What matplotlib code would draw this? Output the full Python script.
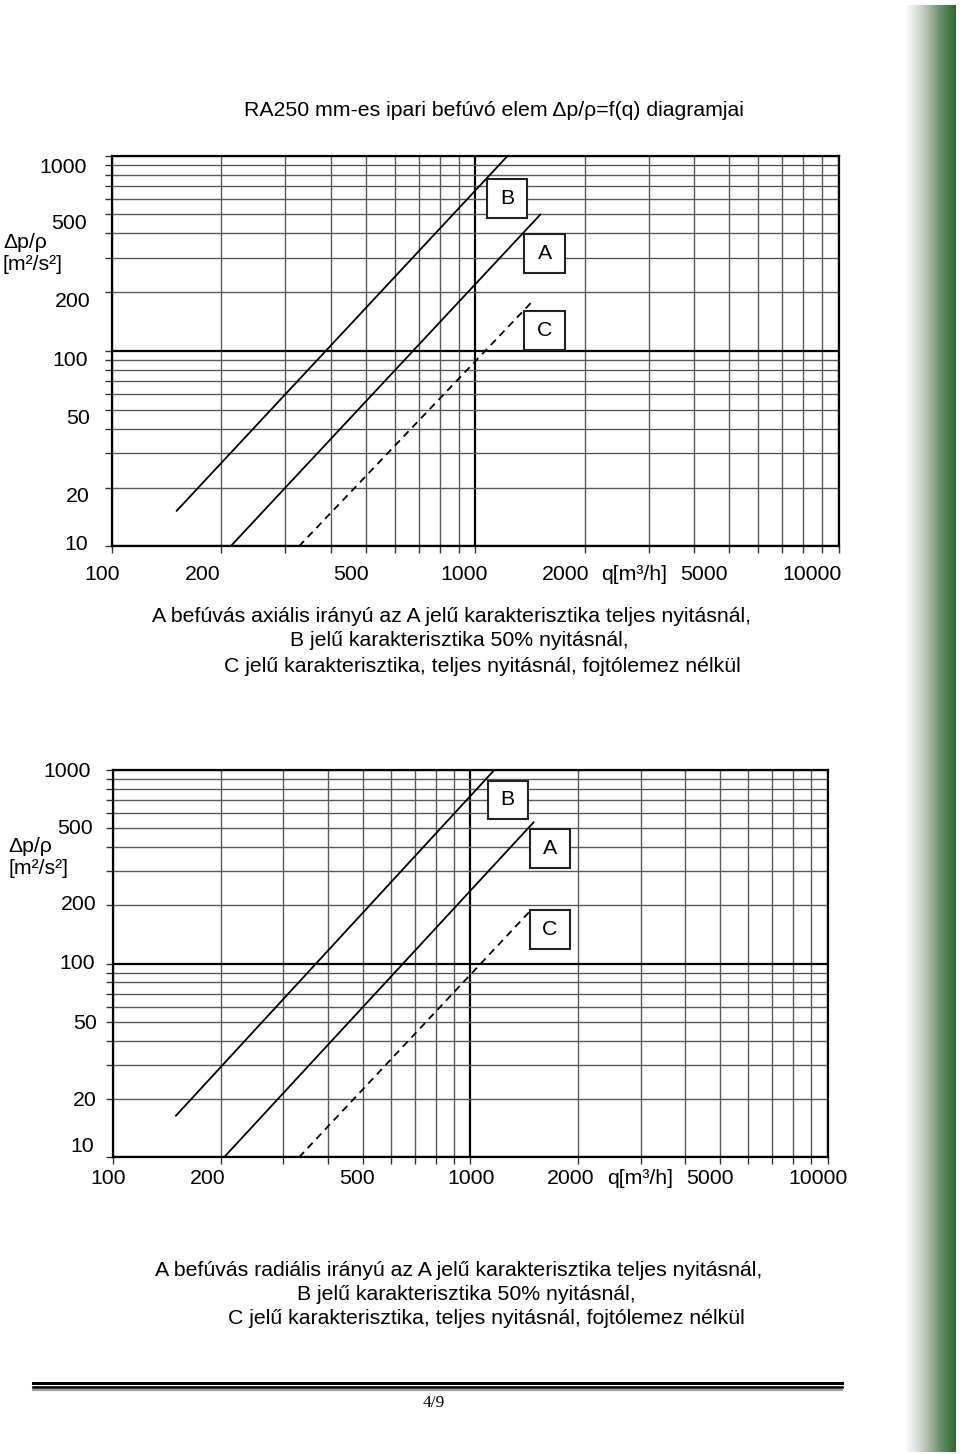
import numpy as np
import matplotlib.pyplot as plt
from matplotlib.patches import Rectangle
from matplotlib.lines import Line2D
from matplotlib.colors import LinearSegmentedColormap
from matplotlib.ticker import LogLocator, NullFormatter
from matplotlib.transforms import ScaledTranslation

plt.rcParams['font.family'] = ['Liberation Sans', 'DejaVu Sans']

# ---- data (q in m3/h, dp/rho in m2/s2) ----
q_ticks = [100, 200, 500, 1000, 2000, 5000, 10000]
p_ticks = [10, 20, 50, 100, 200, 500, 1000]

# axial blow-out (upper diagram): straight lines on log-log paper
axial_A_q = [212, 1510]
axial_A_p = [10, 500]
axial_B_q = [150.7, 1228]
axial_B_p = [15.2, 1000]
axial_C_q = [327, 1421]
axial_C_p = [10, 176]

# radial blow-out (lower diagram)
radial_A_q = [204.5, 1503]
radial_A_p = [10, 537]
radial_B_q = [150, 1167]
radial_B_p = [16.4, 1000]
radial_C_q = [331.6, 1462]
radial_C_p = [10, 185]

title = 'RA250 mm-es ipari befúvó elem \u0394p/\u03c1=f(q) diagramjai'
caption_axial = ['A befúvás axiális irányú az A jelű karakterisztika teljes nyitásnál,',
                 'B jelű karakterisztika 50% nyitásnál,',
                 'C jelű karakterisztika, teljes nyitásnál, fojtólemez nélkül']
caption_radial = ['A befúvás radiális irányú az A jelű karakterisztika teljes nyitásnál,',
                  'B jelű karakterisztika 50% nyitásnál,',
                  'C jelű karakterisztika, teljes nyitásnál, fojtólemez nélkül']

# ---- page layout (pixels) ----
W, H = 960, 1454
FS = 15.3
fig = plt.figure(figsize=(W / 100, H / 100), dpi=100)


def px_axes(left, top, right, bottom):
    return fig.add_axes([left / W, 1 - bottom / H, (right - left) / W, (bottom - top) / H])


def ftext(x, y, s, **kw):
    fig.text(x / W, 1 - y / H, s, **kw)


def nudge(dx, dy):
    # pixel offset, dy positive = downwards
    return ScaledTranslation(dx / 100, -dy / 100, fig.dpi_scale_trans)


def draw_chart(ax, curves, boxes, ylab_nudge, xlab_nudge):
    ax.set_xscale('log')
    ax.set_yscale('log')
    ax.set_xlim(100, 10000)
    ax.set_ylim(10, 1000)
    for axis in (ax.xaxis, ax.yaxis):
        axis.set_major_locator(LogLocator(base=10))
        axis.set_minor_locator(LogLocator(base=10, subs=np.arange(2, 10)))
        axis.set_major_formatter(NullFormatter())
        axis.set_minor_formatter(NullFormatter())
    ax.grid(which='minor', color='#5a5a5a', lw=1.0)
    ax.grid(which='major', color='black', lw=1.6)
    ax.tick_params(which='both', direction='out', length=5, width=1.0, color='#333333')
    for sp in ax.spines.values():
        sp.set_linewidth(1.6)
        sp.set_color('black')

    for (q, p, ls) in curves:
        ax.plot(q, p, color='black', lw=1.3, ls=ls, dashes=(4, 3) if ls == '--' else (None, None),
                zorder=3)

    for (x0, y0, w, h, s) in boxes:
        ax.add_patch(Rectangle((x0, y0), w, h, transform=ax.transAxes, facecolor='white',
                               edgecolor='#222222', lw=1.5, zorder=5))
        ax.text(x0 + w / 2, y0 + h / 2, s, transform=ax.transAxes, ha='center', va='center',
                fontsize=FS, zorder=6)

    for v, (dx, dy) in zip(p_ticks, ylab_nudge):
        ax.text(0, v, str(v), transform=ax.get_yaxis_transform() + nudge(dx, dy),
                ha='right', va='center', fontsize=FS)
    for v, (dx, dy) in zip(q_ticks, xlab_nudge):
        ax.text(v, 0, str(v), transform=ax.get_xaxis_transform() + nudge(dx, dy),
                ha='center', va='center', fontsize=FS)


# upper diagram
ax1 = px_axes(112, 155.7, 838.7, 546.3)
draw_chart(ax1,
           [(axial_B_q, axial_B_p, '-'), (axial_A_q, axial_A_p, '-'), (axial_C_q, axial_C_p, '--')],
           [(0.516, 0.8405, 0.055, 0.0998, 'B'),
            (0.567, 0.6997, 0.0564, 0.0998, 'A'),
            (0.567, 0.5026, 0.0564, 0.0998, 'C')],
           [(-24, -2.3), (-22, 9.2), (-22, 9.2), (-24, 9), (-22, 8.8), (-25, 9.5), (-25, 12)],
           [(-10.3, 28.7), (-18.9, 28.7), (-15, 28.7), (-11.3, 28.7), (-19.2, 28.7),
            (-25.4, 28.7), (-26.7, 28.7)])

# lower diagram
ax2 = px_axes(113, 770, 827.7, 1157.3)
draw_chart(ax2,
           [(radial_B_q, radial_B_p, '-'), (radial_A_q, radial_A_p, '-'), (radial_C_q, radial_C_p, '--')],
           [(0.5243, 0.8727, 0.0559, 0.0997, 'B'),
            (0.583, 0.747, 0.056, 0.0998, 'A'),
            (0.583, 0.538, 0.056, 0.0998, 'C')],
           [(-19, -10.6), (-16.3, 1), (-16.3, 1.7), (-18, -0.4), (-16.3, -0.4), (-20, 0.7), (-22, 1.7)],
           [(-5.2, 20.7), (-13.1, 20.7), (-6.1, 20.7), (0.5, 20.7), (-6.8, 20.7),
            (-10.1, 20.7), (-9.7, 20.7)])

# texts on the page
ftext(494, 110, title, ha='center', va='center', fontsize=FS)

ftext(3, 243, '\u0394p/\u03c1', ha='left', va='center', fontsize=FS)
ftext(3, 265, '[m\u00b2/s\u00b2]', ha='left', va='center', fontsize=FS)
ftext(634, 575, 'q[m\u00b3/h]', ha='center', va='center', fontsize=FS)

ftext(8, 846, '\u0394p/\u03c1', ha='left', va='center', fontsize=FS)
ftext(8, 868, '[m\u00b2/s\u00b2]', ha='left', va='center', fontsize=FS)
ftext(640.5, 1178, 'q[m\u00b3/h]', ha='center', va='center', fontsize=FS)

for (x, y), s in zip([(152, 617), (290, 641), (224, 666)], caption_axial):
    ftext(x, y, s, ha='left', va='center', fontsize=FS)
for (x, y), s in zip([(155, 1270), (297, 1294), (228, 1318)], caption_radial):
    ftext(x, y, s, ha='left', va='center', fontsize=FS)

# footer rules and page number
for y, lw, c in [(1382.5, 3.0, 'black'), (1386.5, 2.6, 'black'), (1390, 2.2, '#a0a0a0')]:
    fig.add_artist(Line2D([33 / W, 842 / W], [1 - y / H, 1 - y / H], color=c,
                          lw=lw * 0.72, transform=fig.transFigure))
ftext(434, 1403, '4/9', ha='center', va='center', fontsize=12.5, family='Liberation Serif')

# green page-edge stripe
sax = px_axes(905, 5, 956, 1452)
green = LinearSegmentedColormap.from_list('edge', ['#ffffff', '#c9d4c9', '#6f9470', '#2a6a2e'])
grad = np.linspace(0, 1, 256).reshape(1, -1)
sax.imshow(grad, aspect='auto', cmap=green, extent=[0, 1, 0, 1])
sax.axis('off')

fig.savefig('out.png', dpi=100)
